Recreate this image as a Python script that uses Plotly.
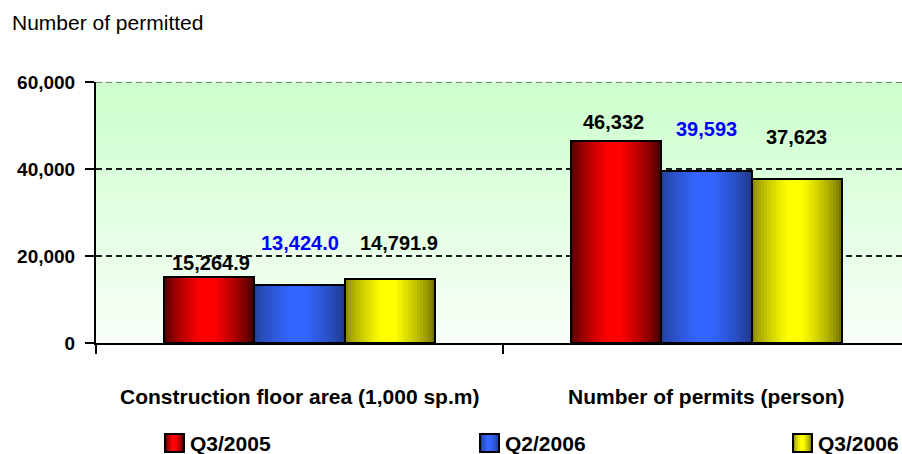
import plotly.graph_objects as go

# ---------------- data ----------------
categories = ["Construction floor area (1,000 sp.m)", "Number of permits (person)"]
series_names = ["Q3/2005", "Q2/2006", "Q3/2006"]
q3_2005 = [15264.9, 46332]
q2_2006 = [13424.0, 39593]
q3_2006 = [14791.9, 37623]
labels_q3_2005 = ["15,264.9", "46,332"]
labels_q2_2006 = ["13,424.0", "39,593"]
labels_q3_2006 = ["14,791.9", "37,623"]
y_tick_values = [0, 20000, 40000, 60000]
y_tick_labels = ["0", "20,000", "40,000", "60,000"]
y_axis_title = "Number of permitted"

# ---------------- styles ----------------
FONT = "Arial, Liberation Sans, sans-serif"
W, H = 902, 454
PAGE_L, PAGE_T, PAGE_B = 96, 82, 343
ML, MR = PAGE_L, 0
MT = PAGE_T
MB = H - PAGE_B
PW, PH = W - ML - MR, H - MT - MB
CAT_PX = 407.0
BAR_W = 0.222
GROUP_LEFT = -0.333
N_STRIPES = 30

# (left edge colour, peak colour, right edge colour)
grad = [
    ((0x45, 0x00, 0x00), (0xFF, 0x00, 0x00), (0x35, 0x00, 0x00)),
    ((0x22, 0x3C, 0x90), (0x33, 0x66, 0xFF), (0x1C, 0x34, 0x80)),
    ((0x80, 0x80, 0x00), (0xFF, 0xFF, 0x00), (0x66, 0x66, 0x00)),
]
label_colors = ["black", "#0000FF", "black"]
label_yshift = [[14, 19], [42, 42], [36, 42]]
label_xshift = [[2, -3], [0, 0], [9, 0]]


def px_x(page_x):
    return (page_x - ML) / PW


def px_y(page_y):
    return (PAGE_B - page_y) / PH


def grad_color(g, t, peak=0.47):
    left, pk, right = g
    if t <= peak:
        m = min(1.0, (t / (peak * 0.85))) ** 0.7
        edge = left
    else:
        m = min(1.0, ((1 - t) / ((1 - peak) * 0.85))) ** 0.7
        edge = right
    c = [int(round(e + (p - e) * m)) for e, p in zip(edge, pk)]
    return "rgb(%d,%d,%d)" % tuple(c)


values = [q3_2005, q2_2006, q3_2006]
labels = [labels_q3_2005, labels_q2_2006, labels_q3_2006]

fig = go.Figure()

for s, vals in enumerate(values):
    sl = GROUP_LEFT + s * BAR_W
    step = BAR_W / N_STRIPES
    for i in range(N_STRIPES):
        t = (i + 0.5) / N_STRIPES
        left = sl + i * step
        width = min(step * 1.6, BAR_W - i * step)
        fig.add_trace(go.Bar(
            x=categories, y=vals, offset=left, width=width,
            marker=dict(color=grad_color(grad[s], t), line=dict(width=0)),
            hoverinfo="skip", showlegend=False,
        ))
    fig.add_trace(go.Bar(
        x=categories, y=vals, offset=sl, width=BAR_W, name=series_names[s],
        marker=dict(color="rgba(0,0,0,0)", line=dict(color="black", width=2)),
        showlegend=False,
    ))

shapes = []
# background gradient in plot area
NB = 60
top_c = (0xCC, 0xFF, 0xCC)
bot_c = (0xF8, 0xFF, 0xF8)
for b in range(NB):
    f = (b + 0.5) / NB
    c = tuple(int(round(bc + (tc - bc) * f)) for bc, tc in zip(bot_c, top_c))
    shapes.append(dict(type="rect", xref="paper", yref="paper",
                       x0=0, x1=1, y0=b / NB, y1=(b + 1) / NB + 0.002,
                       fillcolor="rgb(%d,%d,%d)" % c, line=dict(width=0),
                       layer="below"))
# grid lines
for v in y_tick_values[1:]:
    is_top = v == y_tick_values[-1]
    shapes.append(dict(type="line", xref="paper", yref="y", x0=0, x1=1,
                       y0=v, y1=v, layer="below",
                       line=dict(color="#808080" if is_top else "#1a1a1a",
                                 width=2, dash="6px,4px")))

annotations = []
# data labels
for s in range(3):
    centre = GROUP_LEFT + (s + 0.5) * BAR_W
    for c in range(len(categories)):
        annotations.append(dict(
            x=c + centre, y=values[s][c], xref="x", yref="y",
            text=labels[s][c], showarrow=False, yanchor="middle",
            xshift=label_xshift[s][c], yshift=label_yshift[s][c],
            font=dict(family=FONT, size=20, color=label_colors[s], weight="bold"),
        ))
# category labels
for c, name in enumerate(categories):
    annotations.append(dict(
        x=c, y=0, xref="x", yref="y", text=name, showarrow=False,
        yanchor="middle", yshift=-53,
        font=dict(family=FONT, size=21, color="black", weight="bold"),
    ))
# y axis title
annotations.append(dict(
    x=px_x(10), y=px_y(22), xref="paper", yref="paper",
    text=y_axis_title, showarrow=False, xanchor="left", yanchor="middle",
    font=dict(family=FONT, size=21, color="black"),
))

# manual legend
legend_px = [165, 480, 793]
sq_w, sq_top, sq_bot = 19, 434, 452
for s, px in enumerate(legend_px):
    n = 8
    for i in range(n):
        t = (i + 0.5) / n
        x0 = px + i * sq_w / n
        x1 = px + (i + 1) * sq_w / n + 0.6
        shapes.append(dict(type="rect", xref="paper", yref="paper",
                           x0=px_x(x0), x1=px_x(x1),
                           y0=px_y(sq_bot), y1=px_y(sq_top),
                           fillcolor=grad_color(grad[s], t), line=dict(width=0),
                           layer="above"))
    shapes.append(dict(type="rect", xref="paper", yref="paper",
                       x0=px_x(px), x1=px_x(px + sq_w),
                       y0=px_y(sq_bot), y1=px_y(sq_top),
                       line=dict(color="black", width=2), layer="above"))
    annotations.append(dict(
        x=px_x(px + sq_w + 4), y=px_y(443),
        xref="paper", yref="paper", text=series_names[s], showarrow=False,
        xanchor="left", yanchor="middle",
        font=dict(family=FONT, size=21, color="black", weight="bold"),
    ))

x_range_end = -0.5 + PW / CAT_PX

fig.update_layout(
    width=W, height=H, autosize=False,
    margin=dict(l=ML, r=MR, t=MT, b=MB, pad=0),
    barmode="overlay", bargap=0,
    paper_bgcolor="white", plot_bgcolor="white",
    showlegend=False,
    shapes=shapes, annotations=annotations,
    xaxis=dict(type="category", range=[-0.5, x_range_end],
               tickson="boundaries", ticks="outside", ticklen=9, tickwidth=2,
               tickcolor="black", showticklabels=False, showgrid=False,
               showline=True, linecolor="black", linewidth=2, zeroline=False,
               fixedrange=True),
    yaxis=dict(range=[0, 60000], tickvals=y_tick_values, ticktext=y_tick_labels,
               ticks="outside", ticklen=9, tickwidth=2, tickcolor="black",
               showline=True, linecolor="black", linewidth=2, showgrid=False,
               zeroline=False, ticklabelstandoff=6,
               tickfont=dict(family=FONT, size=19, color="black", weight="bold"),
               fixedrange=True),
)

fig.write_html("out.html", config={"displayModeBar": False},
               post_script="document.body.style.margin='0';document.body.style.overflow='hidden';")
